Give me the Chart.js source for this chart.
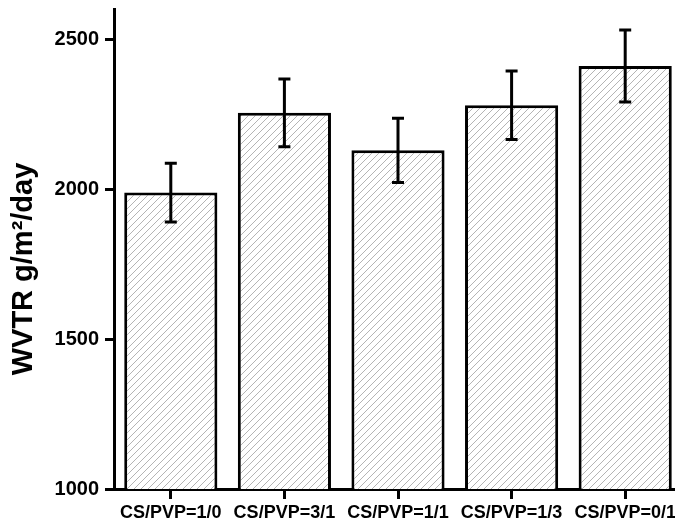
<!DOCTYPE html>
<html>
<head>
<meta charset="utf-8">
<script src="https://cdn.jsdelivr.net/npm/chart.js@4.4.1/dist/chart.umd.min.js"></script>
<style>
  html, body { margin: 0; padding: 0; overflow: hidden; background: #fff; }
  #wrap { width: 686px; height: 525px; position: relative; }
</style>
</head>
<body>
<div id="wrap"><canvas id="chart"></canvas></div>
<script>
const categories = ['CS/PVP=1/0', 'CS/PVP=3/1', 'CS/PVP=1/1', 'CS/PVP=1/3', 'CS/PVP=0/1'];
const wvtr = [1988, 2254, 2129, 2279, 2410];
const wvtrErr = [98, 113, 107, 114, 120];
const yTicks = [1000, 1500, 2000, 2500];
const yMin = 1000;
const yMax = 2600;
const yTitle = 'WVTR g/m²/day';

Chart.defaults.font.family = '"Liberation Sans", Arial, sans-serif';
Chart.defaults.color = '#000';

const canvas = document.getElementById('chart');
const ctx = canvas.getContext('2d');

// diagonal hatch fill for the bars
function hatch() {
  const s = 7;
  const tile = document.createElement('canvas');
  tile.width = s; tile.height = s;
  const g = tile.getContext('2d');
  g.fillStyle = '#fff';
  g.fillRect(0, 0, s, s);
  g.strokeStyle = '#b4b4b4';
  g.lineWidth = 1;
  g.beginPath();
  g.moveTo(0, s); g.lineTo(s, 0);
  g.moveTo(-1, 1); g.lineTo(1, -1);
  g.moveTo(s - 1, s + 1); g.lineTo(s + 1, s - 1);
  g.stroke();
  return ctx.createPattern(tile, 'repeat');
}

const errorBars = {
  id: 'errorBars',
  afterDatasetsDraw(chart) {
    const { ctx, scales: { y } } = chart;
    const meta = chart.getDatasetMeta(0);
    ctx.save();
    ctx.strokeStyle = '#000';
    ctx.lineWidth = 3;
    meta.data.forEach((bar, i) => {
      const x = bar.x;
      const top = y.getPixelForValue(wvtr[i] + wvtrErr[i]);
      const bot = y.getPixelForValue(wvtr[i] - wvtrErr[i]);
      ctx.beginPath();
      ctx.moveTo(x, top); ctx.lineTo(x, bot);
      ctx.moveTo(x - 6, top); ctx.lineTo(x + 6, top);
      ctx.moveTo(x - 6, bot); ctx.lineTo(x + 6, bot);
      ctx.stroke();
    });
    ctx.restore();
  }
};

const axisTitle = {
  id: 'axisTitle',
  afterDraw(chart) {
    const { ctx, chartArea } = chart;
    ctx.save();
    ctx.translate(24, (chartArea.top + chartArea.bottom) / 2 + 20);
    ctx.rotate(-Math.PI / 2);
    ctx.font = 'bold 29px "Liberation Sans", Arial, sans-serif';
    ctx.textAlign = 'center';
    ctx.textBaseline = 'middle';
    ctx.fillStyle = '#000';
    ctx.fillText(yTitle, 0, 0);
    ctx.restore();
  }
};

new Chart(canvas, {
  type: 'bar',
  data: {
    labels: categories,
    datasets: [{
      data: wvtr,
      backgroundColor: hatch(),
      borderColor: '#000',
      borderWidth: 3,
      barPercentage: 0.82,
      categoryPercentage: 1
    }]
  },
  options: {
    responsive: true,
    maintainAspectRatio: false,
    animation: false,
    layout: { padding: { top: 9, right: 4, left: 0, bottom: 0 } },
    plugins: {
      legend: { display: false },
      tooltip: { enabled: false }
    },
    scales: {
      x: {
        offset: true,
        grid: { drawOnChartArea: false, drawTicks: true, tickLength: 10, lineWidth: 3, color: '#000', offset: false },
        border: { display: true, width: 3, color: '#000' },
        ticks: { color: '#000', font: { size: 18, weight: 'bold' }, padding: 3, maxRotation: 0, autoSkip: false },
        afterFit: s => { s.height = 36; s.paddingLeft = 0; s.paddingRight = 0; }
      },
      y: {
        min: yMin,
        max: yMax,
        afterBuildTicks: s => { s.ticks = yTicks.map(v => ({ value: v })); },
        grid: { drawOnChartArea: false, drawTicks: true, tickLength: 9, lineWidth: 3, color: '#000' },
        border: { display: true, width: 3, color: '#000' },
        ticks: { color: '#000', font: { size: 20, weight: 'bold' }, padding: 6, callback: v => String(v) },
        afterFit: s => { s.width = 114; s.paddingTop = 0; s.paddingBottom = 0; }
      }
    }
  },
  plugins: [errorBars, axisTitle]
});
</script>
</body>
</html>
